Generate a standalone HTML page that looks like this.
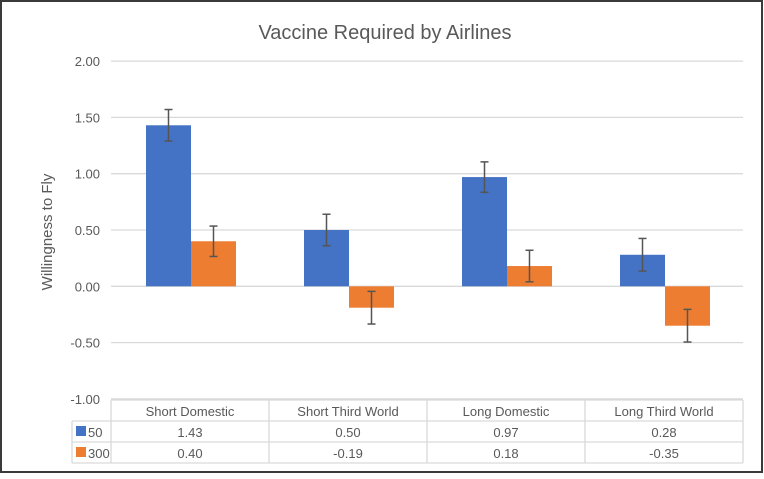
<!DOCTYPE html>
<html><head><meta charset="utf-8"><style>
body{margin:0;background:#fff;}
svg text{font-family:"Liberation Sans",sans-serif;}
</style></head><body>
<svg id="chart" width="764" height="474" xmlns="http://www.w3.org/2000/svg">
<rect x="1" y="1" width="761" height="471" fill="#fff" stroke="#3a3a3a" stroke-width="2"/>
<text x="385" y="39" text-anchor="middle" font-size="20" fill="#595959">Vaccine Required by Airlines</text>
<text transform="translate(52,232) rotate(-90)" text-anchor="middle" font-size="15" fill="#595959">Willingness to Fly</text>
<g id="grid"></g><g id="bars"></g><g id="table"></g>
</svg>
<script>
const categories=["Short Domestic","Short Third World","Long Domestic","Long Third World"];
const seriesNames=["50","300"];
const values50=[1.43,0.50,0.97,0.28];
const values300=[0.40,-0.19,0.18,-0.35];
const err50=[0.14,0.14,0.135,0.145];
const err300=[0.135,0.145,0.14,0.145];
const yTicks=[2,1.5,1,0.5,0,-0.5,-1];
const colors=["#4472c4","#ed7d31"];
const NS="http://www.w3.org/2000/svg";
const X0=111,CW=158,Y0=286.3,U=112.6;
const y=v=>Y0-v*U;
function mk(t,a,p){const e=document.createElementNS(NS,t);for(const k in a)e.setAttribute(k,a[k]);p.appendChild(e);return e;}
const grid=document.getElementById('grid'),bars=document.getElementById('bars'),tbl=document.getElementById('table');
yTicks.forEach(v=>{
 const l=mk('line',{x1:X0,x2:X0+4*CW,y1:y(v),y2:y(v),stroke:'#d9d9d9','stroke-width':1.3},grid);
 
 
 const t=mk('text',{x:100,y:y(v)+5,'text-anchor':'end','font-size':13,fill:'#595959'},grid);
 t.textContent=v.toFixed(2);
 
 
});
const series=[values50,values300],errs=[err50,err300];
categories.forEach((c,i)=>{
 series.forEach((s,j)=>{
  const bx=X0+i*CW+35+j*45,v=s[i];
  const r=mk('rect',{x:bx,y:Math.min(y(v),Y0),width:45,height:Math.abs(y(v)-Y0),fill:colors[j]},bars);
  
  
  const cx=bx+22.5,e=errs[j][i];
  const g=mk('g',{stroke:'#555','stroke-width':1.5},bars);
  
  
  mk('line',{x1:cx,x2:cx,y1:y(v+e),y2:y(v-e)},g);
  mk('line',{x1:cx-4,x2:cx+4,y1:y(v+e),y2:y(v+e)},g);
  mk('line',{x1:cx-4,x2:cx+4,y1:y(v-e),y2:y(v-e)},g);
 });
});
const tg=mk('g',{stroke:'#d9d9d9','stroke-width':1.3,fill:'none'},tbl);


mk('line',{x1:X0,x2:X0+4*CW,y1:400,y2:400},tg);
[421,442,463].forEach(r=>mk('line',{x1:72,x2:X0+4*CW,y1:r,y2:r},tg));
for(let k=0;k<=4;k++)mk('line',{x1:X0+k*CW,x2:X0+k*CW,y1:400,y2:463},tg);
mk('line',{x1:72,x2:72,y1:421,y2:463},tg);
categories.forEach((c,i)=>{
 const t=mk('text',{x:X0+i*CW+CW/2,y:416,'text-anchor':'middle','font-size':13,fill:'#595959'},tbl);
 t.textContent=c;
 
 
 series.forEach((s,j)=>{
  const vt=mk('text',{x:X0+i*CW+CW/2,y:437+j*21,'text-anchor':'middle','font-size':13,fill:'#595959'},tbl);
  vt.textContent=s[i].toFixed(2);
  
  
 });
});
seriesNames.forEach((n,j)=>{
 const sw=mk('rect',{x:76,y:426+j*21,width:10,height:10,fill:colors[j]},tbl);
 
 
 const t=mk('text',{x:88,y:437+j*21,'font-size':13,fill:'#595959'},tbl);
 t.textContent=n;
 
 
});
</script>
</body></html>
